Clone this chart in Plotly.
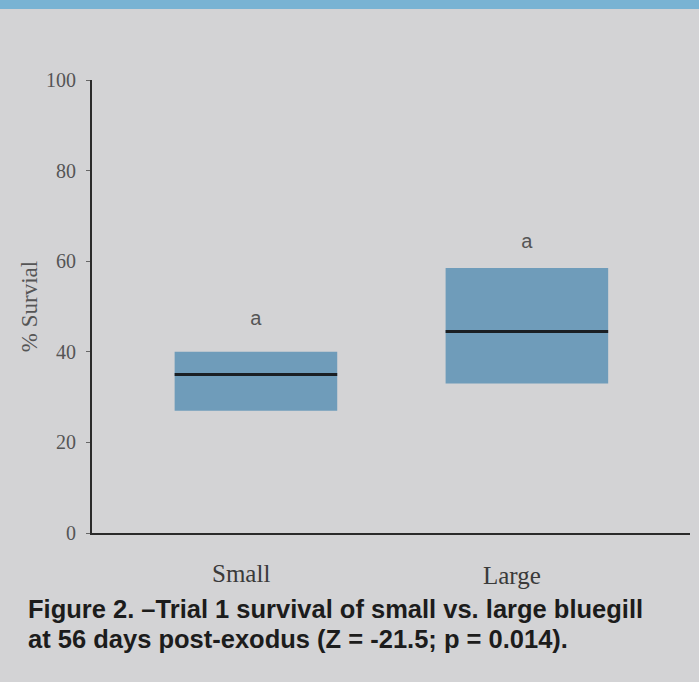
import plotly.graph_objects as go

categories = ["Small", "Large"]
q1 = [27, 33]
q3 = [40, 58.5]
median = [35, 44.5]
letters = ["a", "a"]
letter_y = [47, 64]
yticks = [0, 20, 40, 60, 80, 100]

box_w = 0.6
xs = list(range(len(categories)))

fig = go.Figure()
fig.add_trace(go.Bar(
    x=xs, y=[b - a for a, b in zip(q1, q3)], base=q1, width=box_w,
    marker=dict(color="#6f9cba", line=dict(width=0)), showlegend=False,
    hoverinfo="skip"))
for i in xs:
    fig.add_trace(go.Scatter(
        x=[i - box_w / 2, i + box_w / 2], y=[median[i], median[i]],
        mode="lines", line=dict(color="#1a1f24", width=3), showlegend=False,
        hoverinfo="skip"))
fig.add_trace(go.Scatter(
    x=xs, y=letter_y, mode="text", text=letters,
    textfont=dict(family="Liberation Sans, Arial", size=20, color="#555"),
    showlegend=False, hoverinfo="skip"))

serif = "Liberation Serif, Times New Roman"
fig.update_layout(
    width=699, height=682,
    paper_bgcolor="#d3d3d5", plot_bgcolor="#d3d3d5",
    margin=dict(l=92, r=9, t=80, b=149),
    xaxis=dict(range=[-0.605, 1.602], tickvals=xs, ticktext=["", ""],
               showline=True, linecolor="#2a2a2a", linewidth=2,
               showgrid=False, zeroline=False, ticks=""),
    yaxis=dict(range=[0, 100], tickvals=yticks,
               showline=True, linecolor="#2a2a2a", linewidth=2,
               showgrid=False, zeroline=False, ticks="outside", ticklen=4,
               tickcolor="#666", ticklabelstandoff=6,
               tickfont=dict(family=serif, size=20, color="#555"),
               title=dict(text="% Survial", standoff=2,
                          font=dict(family=serif, size=23, color="#555"))),
)
for i, c in zip(xs, categories):
    fig.add_annotation(x=i, y=0, xref="x", yref="y", yanchor="middle",
                       yshift=-40 - 2 * i, xshift=-15, showarrow=False, text=c,
                       font=dict(family=serif, size=25, color="#3a3a3a"))
# top blue band
fig.add_shape(type="rect", xref="paper", yref="paper", x0=-0.2, x1=1.2,
              y0=1 + 71 / 453, y1=1 + 90 / 453, fillcolor="#79b3d3",
              line=dict(width=0), layer="below")
cap_font = dict(family="Liberation Sans, Arial", size=25.5, color="#1c1c1c", weight="bold")
fig.add_annotation(
    xref="paper", yref="paper", x=-66 / 598, y=-76 / 453, xanchor="left", yanchor="middle",
    showarrow=False, text="Figure 2. \u2013Trial 1 survival of small vs. large bluegill",
    font=cap_font)
fig.add_annotation(
    xref="paper", yref="paper", x=-66 / 598, y=-106 / 453, xanchor="left", yanchor="middle",
    showarrow=False, text="at 56 days post-exodus (Z = -21.5; p = 0.014).",
    font=cap_font)

fig.write_html("out.html", config={"displayModeBar": False},
               post_script="document.body.style.margin='0';document.body.style.background='#d3d3d5';")
